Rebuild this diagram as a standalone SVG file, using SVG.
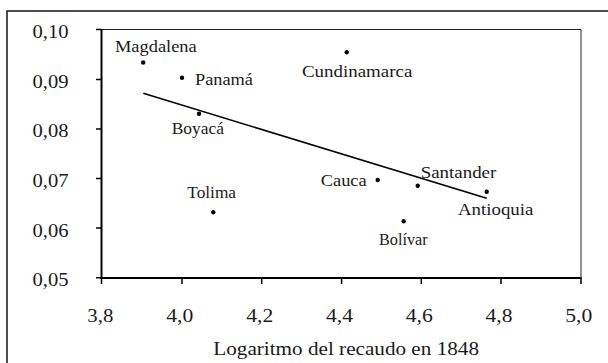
<svg xmlns="http://www.w3.org/2000/svg" width="608" height="363" viewBox="0 0 608 363">
<style>
.t{font-family:"Liberation Serif","Times New Roman",Times,"DejaVu Serif","Noto Serif",serif;fill:#1a1a1a}
.lbl{font-size:17px}
.tick{font-size:18px}
.dot{fill:#000}
.ax{stroke:#000;stroke-width:2;fill:none}
.thin{stroke:#222;stroke-width:1;fill:none}
</style>
<rect width="608" height="363" fill="#fff"/>
<rect x="7" y="11" width="640" height="400" fill="none" stroke="#222" stroke-width="1.6"/>
<g id="axes">
<path class="thin" d="M101.5 29.5 H581 V278"/>
<path class="ax" d="M101.5 29 V278 H581.5"/>
<path stroke="#000" stroke-width="1.5" d="M96 29.5H101.5M96 79.5H101.5M96 129H101.5M96 178.5H101.5M96 228H101.5M96 277.7H101.5M101.5 278V284M182 278V284M261.7 278V284M341.6 278V284M421.3 278V284M501 278V284M581 278V284"/>
<text class="t tick" text-anchor="end" x="68.5" y="38.3" textLength="36" lengthAdjust="spacingAndGlyphs">0,10</text>
<text class="t tick" text-anchor="end" x="68.5" y="87.6" textLength="36" lengthAdjust="spacingAndGlyphs">0,09</text>
<text class="t tick" text-anchor="end" x="68.5" y="137.3" textLength="36" lengthAdjust="spacingAndGlyphs">0,08</text>
<text class="t tick" text-anchor="end" x="68.5" y="187" textLength="36" lengthAdjust="spacingAndGlyphs">0,07</text>
<text class="t tick" text-anchor="end" x="68.5" y="236.6" textLength="36" lengthAdjust="spacingAndGlyphs">0,06</text>
<text class="t tick" text-anchor="end" x="68.5" y="286.2" textLength="36" lengthAdjust="spacingAndGlyphs">0,05</text>
<text class="t tick" text-anchor="middle" x="100.3" y="321.7" textLength="26" lengthAdjust="spacingAndGlyphs">3,8</text>
<text class="t tick" text-anchor="middle" x="179.7" y="321.7" textLength="27" lengthAdjust="spacingAndGlyphs">4,0</text>
<text class="t tick" text-anchor="middle" x="259.7" y="321.7" textLength="27" lengthAdjust="spacingAndGlyphs">4,2</text>
<text class="t tick" text-anchor="middle" x="339.5" y="321.7" textLength="27" lengthAdjust="spacingAndGlyphs">4,4</text>
<text class="t tick" text-anchor="middle" x="419.3" y="321.7" textLength="27" lengthAdjust="spacingAndGlyphs">4,6</text>
<text class="t tick" text-anchor="middle" x="499" y="321.7" textLength="27" lengthAdjust="spacingAndGlyphs">4,8</text>
<text class="t tick" text-anchor="middle" x="578.7" y="321.7" textLength="27" lengthAdjust="spacingAndGlyphs">5,0</text>
<text class="t tick" x="213.3" y="355" textLength="265.7" lengthAdjust="spacingAndGlyphs">Logaritmo del recaudo en 1848</text>
</g>
<g id="connectors">
<line x1="143.3" y1="93.3" x2="486.7" y2="198.3" stroke="#000" stroke-width="1.6"/>
</g>
<g id="magdalena"><circle class="dot" cx="143.2" cy="62.5" r="2.2"/><text class="t lbl" x="115" y="51.7" textLength="81.7" lengthAdjust="spacingAndGlyphs">Magdalena</text></g>
<g id="panama"><circle class="dot" cx="182" cy="77.7" r="2.2"/><text class="t lbl" x="195" y="85" textLength="58" lengthAdjust="spacingAndGlyphs">Panamá</text></g>
<g id="boyaca"><circle class="dot" cx="199" cy="113.7" r="2.2"/><text class="t lbl" x="171.7" y="133.5" textLength="52.3" lengthAdjust="spacingAndGlyphs">Boyacá</text></g>
<g id="cundinamarca"><circle class="dot" cx="346.7" cy="52.3" r="2.2"/><text class="t lbl" x="302" y="76.5" textLength="110.3" lengthAdjust="spacingAndGlyphs">Cundinamarca</text></g>
<g id="tolima"><circle class="dot" cx="213.3" cy="212.3" r="2.2"/><text class="t lbl" x="187.3" y="198.3" textLength="48.7" lengthAdjust="spacingAndGlyphs">Tolima</text></g>
<g id="cauca"><circle class="dot" cx="377.7" cy="180" r="2.2"/><text class="t lbl" x="320.7" y="186" textLength="46" lengthAdjust="spacingAndGlyphs">Cauca</text></g>
<g id="santander"><circle class="dot" cx="417.7" cy="185.7" r="2.2"/><text class="t lbl" x="420.7" y="177.7" textLength="75.6" lengthAdjust="spacingAndGlyphs">Santander</text></g>
<g id="bolivar"><circle class="dot" cx="403.7" cy="221.3" r="2.2"/><text class="t lbl" x="379" y="245" textLength="48.7" lengthAdjust="spacingAndGlyphs">Bolívar</text></g>
<g id="antioquia"><circle class="dot" cx="486.7" cy="191.7" r="2.2"/><text class="t lbl" x="458" y="215" textLength="75.3" lengthAdjust="spacingAndGlyphs">Antioquia</text></g>
</svg>
